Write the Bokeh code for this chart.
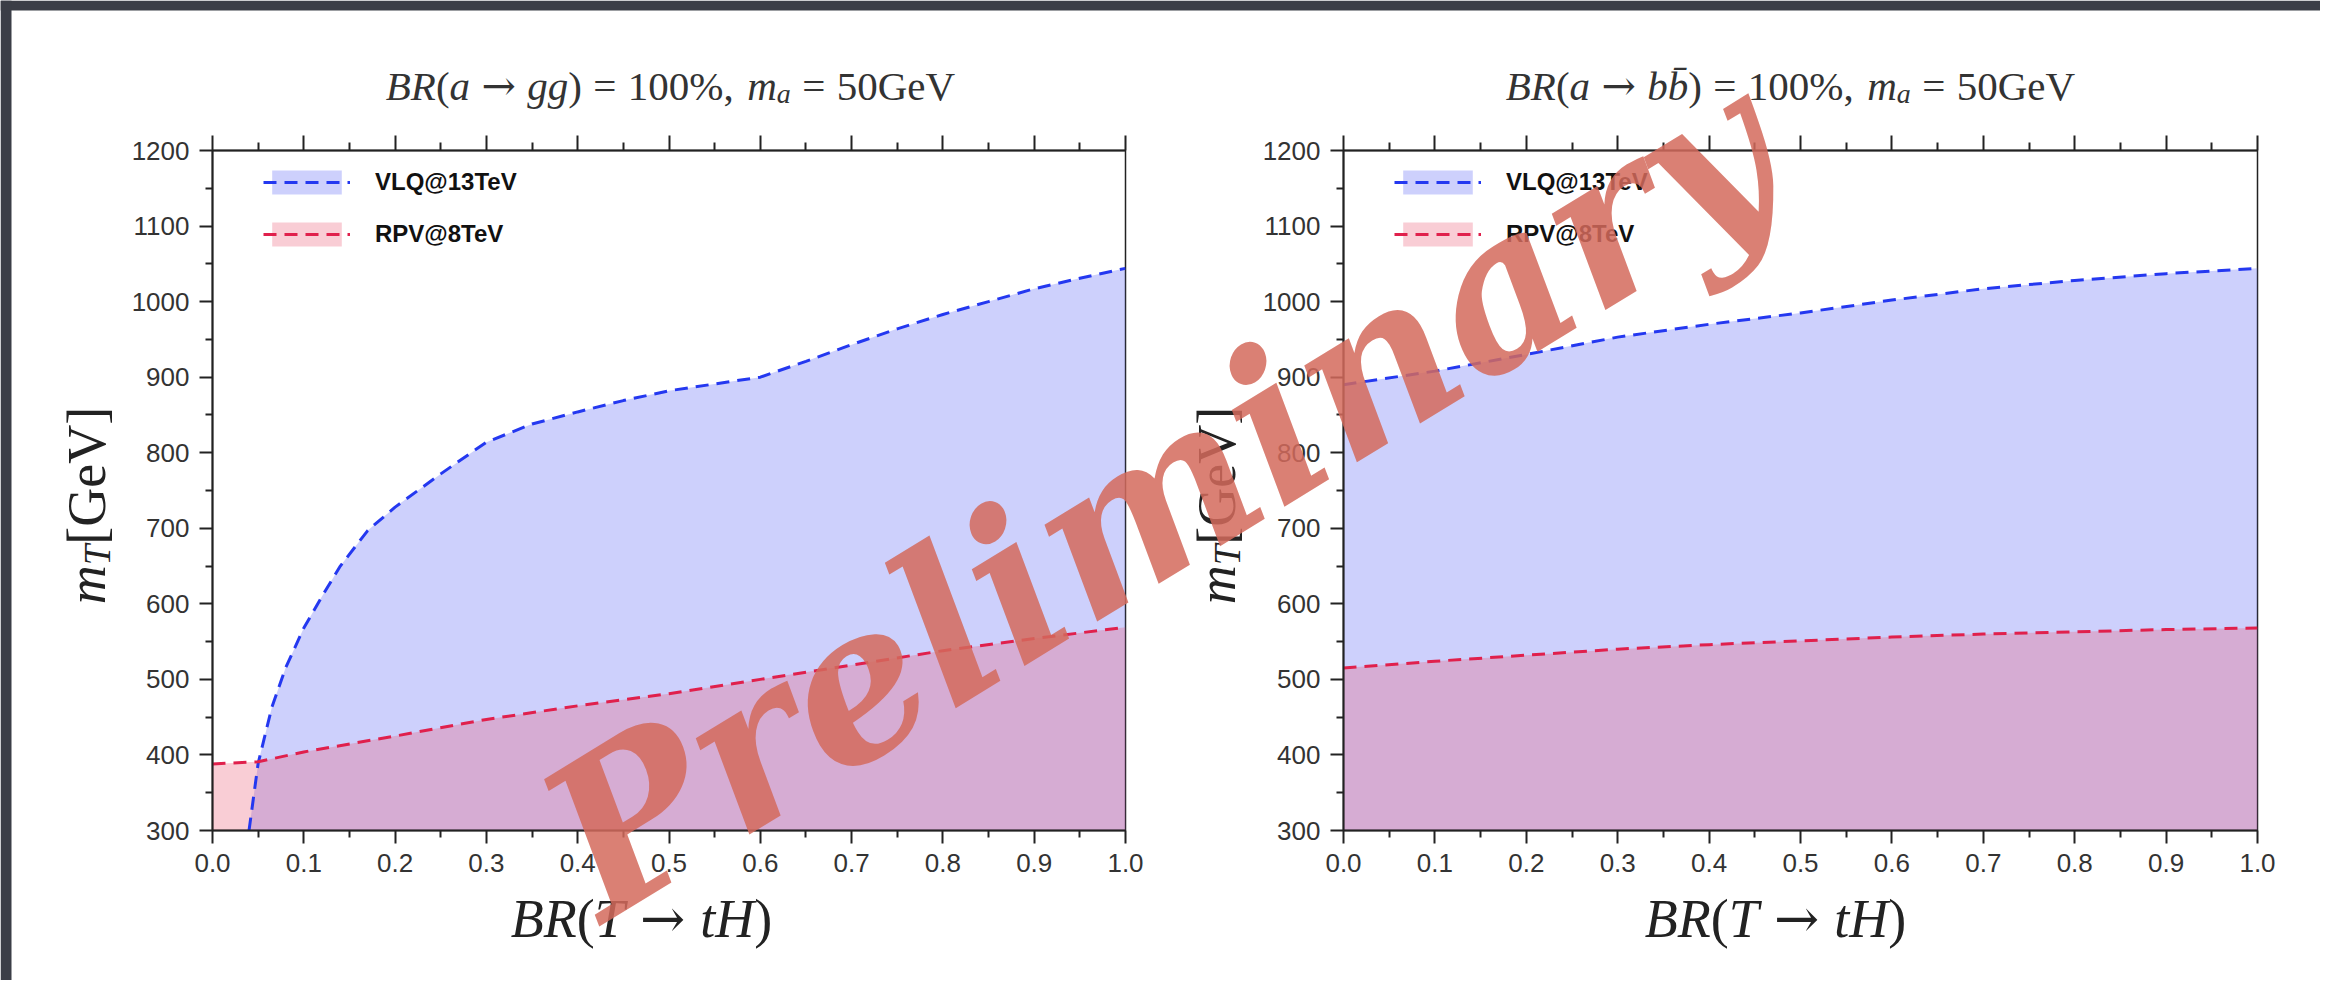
import math
from bokeh.plotting import figure
from bokeh.layouts import row, column
from bokeh.models import (Range1d, FixedTicker, NumeralTickFormatter, LinearAxis,
                          Label, Legend, LegendItem, BoxAnnotation)
from bokeh.embed import file_html
from bokeh.resources import INLINE

# ---------------- data ----------------
x_ticks = [0.0, 0.1, 0.2, 0.3, 0.4, 0.5, 0.6, 0.7, 0.8, 0.9, 1.0]
x_minor = [0.05, 0.15, 0.25, 0.35, 0.45, 0.55, 0.65, 0.75, 0.85, 0.95]
y_ticks = [300, 400, 500, 600, 700, 800, 900, 1000, 1100, 1200]
y_minor = [350, 450, 550, 650, 750, 850, 950, 1050, 1150]

# left panel: BR(a -> gg) = 100%
gg_vlq_x = [0.04, 0.05, 0.065, 0.08, 0.10, 0.12, 0.14, 0.17, 0.20, 0.25, 0.30, 0.35,
            0.40, 0.45, 0.50, 0.55, 0.60, 0.65, 0.70, 0.75, 0.80, 0.85, 0.90, 0.95, 1.00]
gg_vlq_m = [300, 389, 463, 515, 568, 610, 650, 697, 728, 772, 814, 838,
            854, 869, 882, 891, 900, 921, 943, 964, 983, 1000, 1017, 1031, 1044]
gg_rpv_x = [0.0, 0.05, 0.10, 0.20, 0.30, 0.40, 0.50, 0.60, 0.70, 0.80, 0.90, 1.00]
gg_rpv_m = [388, 391, 404, 425, 447, 465, 481, 500, 519, 538, 554, 569]

# right panel: BR(a -> bb) = 100%
bb_x = [0.0, 0.1, 0.2, 0.3, 0.4, 0.5, 0.6, 0.7, 0.8, 0.9, 1.0]
bb_vlq_m = [890, 908, 930, 953, 970, 985, 1002, 1017, 1028, 1037, 1044]
bb_rpv_m = [515, 524, 532, 540, 546, 551, 556, 560, 563, 566, 568]

series_labels = ["VLQ@13TeV", "RPV@8TeV"]
watermark_text = "Preliminary"

# ---------------- styling ----------------
BLUE_LINE = "#2438f0"
BLUE_FILL = "#6f78f5"
RED_LINE = "#e0204c"
RED_FILL = "#eb5873"
AX = "#222222"
SERIF = "Liberation Serif"
SANS = "Liberation Sans"
SLIDE_BG = "#3b3e47"

FRAME_TOP = 150
FRAME_H = 680
H = 980
W_TOTAL = 2320

TIMES_REG = {' ': .25, '(': .333, ')': .333, '=': .564, '%': .833, ',': .25, '[': .333,
             ']': .333, 'G': .722, 'e': .444, 'V': .722, '\u0304': 0.0}
for d in "0123456789":
    TIMES_REG[d] = .5
TIMES_IT = {'B': .611, 'R': .611, 'a': .5, 'g': .5, 'm': .722, 'T': .556, 't': .278,
            'H': .722, 'b': .5, '\u0304': 0.0}
ARROW_W = 0.838


def seg_w(text, kind, size):
    if kind == "arrow":
        return ARROW_W * size
    table = TIMES_IT if kind == "it" else TIMES_REG
    return sum(table.get(c, .5) for c in text) * size


def make_label(p, text, kind, size, x, y, angle=0.0, color="#333333"):
    font = "DejaVu Serif" if kind == "arrow" else SERIF
    style = "italic" if kind == "it" else "normal"
    p.add_layout(Label(x=x, y=y, text=text, text_font=font, text_font_style=style,
                       text_font_size=f"{size}px", text_color=color,
                       text_align="left", text_baseline="alphabetic", angle=angle))


def hrow(p, segs, center_x, base_y, color="#333333"):
    # segs: (text, kind, size, baseline_drop, extra_space_before); canvas coordinates
    widths = [seg_w(t, k, s) + sp for (t, k, s, sh, sp) in segs]
    x = center_x - sum(widths) / 2.0
    for (t, k, s, sh, sp), w in zip(segs, widths):
        make_label(p, t, k, s, x + sp, base_y + sh, color=color)
        x += w


def vrow(p, segs, base_x, center_y, color="#222222"):
    widths = [seg_w(t, k, s) + sp for (t, k, s, sh, sp) in segs]
    y = center_y + sum(widths) / 2.0
    for (t, k, s, sh, sp), w in zip(segs, widths):
        make_label(p, t, k, s, base_x + sh, y - sp, angle=math.pi / 2, color=color)
        y -= w


def title_segs(decay, size):
    th = 0.278 * size
    return [("BR", "it", size, 0, 0), ("(", "reg", size, 0, 0), ("a", "it", size, 0, 0),
            ("\u2192", "arrow", size, 0, th), (decay, "it", size, 0, th),
            (")", "reg", size, 0, 0), ("=", "reg", size, 0, th), ("100%,", "reg", size, 0, th),
            ("m", "it", size, 0, 0.33 * size), ("a", "it", int(size * 0.7), 0.2 * size, 0),
            ("=", "reg", size, 0, th), ("50GeV", "reg", size, 0, th)]


def xlabel_segs(s):
    th = 0.278 * s
    return [("BR", "it", s, 0, 0), ("(", "reg", s, 0, 0), ("T", "it", s, 0, 0),
            ("\u2192", "arrow", s, 0, th), ("tH", "it", s, 0, th), (")", "reg", s, 0, 0)]


def ylabel_segs(s):
    return [("m", "it", s, 0, 0), ("T", "it", int(s * 0.7), 0.2 * s, 0),
            ("[GeV]", "reg", s, 0, 0)]


def build(width, left, right, vlq_x, vlq_m, rpv_x, rpv_m):
    p = figure(width=width, height=H, x_range=Range1d(0, 1), y_range=Range1d(300, 1200),
               output_backend="svg", toolbar_location=None, title=None)
    p.min_border_left = left
    p.min_border_right = right
    p.min_border_top = FRAME_TOP
    p.min_border_bottom = H - FRAME_TOP - FRAME_H
    p.background_fill_color = "white"
    p.border_fill_color = "white"
    p.outline_line_color = AX
    p.outline_line_width = 1.5
    p.xgrid.visible = False
    p.ygrid.visible = False

    bv = p.varea(x=vlq_x, y1=300, y2=vlq_m, fill_color=BLUE_FILL, fill_alpha=0.35)
    rv = p.varea(x=rpv_x, y1=300, y2=rpv_m, fill_color=RED_FILL, fill_alpha=0.30)
    bl = p.line(vlq_x, vlq_m, line_color=BLUE_LINE, line_width=3, line_dash="13 8")
    rl = p.line(rpv_x, rpv_m, line_color=RED_LINE, line_width=3, line_dash="13 8")

    xt = FixedTicker(ticks=x_ticks, minor_ticks=x_minor)
    yt = FixedTicker(ticks=y_ticks, minor_ticks=y_minor)
    bottom = p.below[0]
    leftax = p.left[0]
    bottom.ticker = xt
    leftax.ticker = yt
    bottom.formatter = NumeralTickFormatter(format="0.0")
    top = LinearAxis(ticker=xt)
    p.add_layout(top, "above")
    for ax in [bottom, leftax, top]:
        ax.axis_line_color = AX
        ax.axis_line_width = 2
        ax.major_tick_line_color = AX
        ax.major_tick_line_width = 2
        ax.minor_tick_line_color = AX
        ax.minor_tick_line_width = 2
        ax.major_tick_in = 0
        ax.minor_tick_in = 0
        ax.major_tick_out = 13
        ax.minor_tick_out = 7
        ax.major_label_text_font = SANS
        ax.major_label_text_font_size = "26px"
        ax.major_label_text_color = "#333333"
        ax.major_label_standoff = 10
    top.major_tick_out = 15
    top.minor_tick_out = 8
    top.major_label_text_alpha = 0.0
    top.major_label_text_font_size = "1px"
    top.major_label_standoff = 0

    legend = Legend(items=[LegendItem(label=series_labels[0], renderers=[bv, bl]),
                           LegendItem(label=series_labels[1], renderers=[rv, rl])],
                    location=(51, FRAME_H - 14 - 85), glyph_width=87, glyph_height=30,
                    label_height=24, label_standoff=25, spacing=22, padding=0, margin=0,
                    border_line_color=None, background_fill_alpha=0,
                    label_text_font=SANS, label_text_font_style="bold",
                    label_text_font_size="24px", label_text_color="#111111")
    p.add_layout(legend)
    return p


p1 = build(1180, 212, 55, gg_vlq_x, gg_vlq_m, gg_rpv_x, gg_rpv_m)
p2 = build(W_TOTAL - 1180, 163, W_TOTAL - 1180 - 163 - 914, bb_x, bb_vlq_m, bb_x, bb_rpv_m)

# transparent overlay (canvas pixel coordinates) carrying titles, axis labels, slide edge
# and the watermark that runs across both panels
ov = figure(width=W_TOTAL, height=H, x_range=Range1d(0, W_TOTAL), y_range=Range1d(H, 0),
            output_backend="svg", toolbar_location=None, x_axis_type=None, y_axis_type=None,
            min_border=0, title=None)
ov.grid.visible = False
ov.outline_line_color = None
ov.background_fill_alpha = 0
ov.border_fill_alpha = 0
ov.styles = {"position": "absolute", "top": "0px", "left": "0px",
             "pointer-events": "none", "z-index": "10"}

ov.add_layout(BoxAnnotation(left=0, right=W_TOTAL, top=0, bottom=10, fill_color=SLIDE_BG,
                            fill_alpha=1, line_color=None))
ov.add_layout(BoxAnnotation(left=0, right=11, top=0, bottom=H, fill_color=SLIDE_BG,
                            fill_alpha=1, line_color=None))

hrow(ov, title_segs("gg", 41), 670, 85)
hrow(ov, title_segs("bb\u0304", 41), 1790, 85)
hrow(ov, xlabel_segs(54), 641, 918, color="#222222")
hrow(ov, xlabel_segs(54), 1775, 918, color="#222222")
vrow(ov, ylabel_segs(54), 86, 505)
vrow(ov, ylabel_segs(54), 1216, 505)

ov.add_layout(Label(x=564, y=860, text=watermark_text,
                    text_font="DejaVu Serif", text_font_style="bold italic",
                    text_font_size="212px", text_color="#d46a5c", text_alpha=0.85,
                    angle=math.radians(31.5), text_align="left", text_baseline="alphabetic"))

layout = column(row(p1, p2), ov)
open("out.html", "w").write(file_html(layout, INLINE))
